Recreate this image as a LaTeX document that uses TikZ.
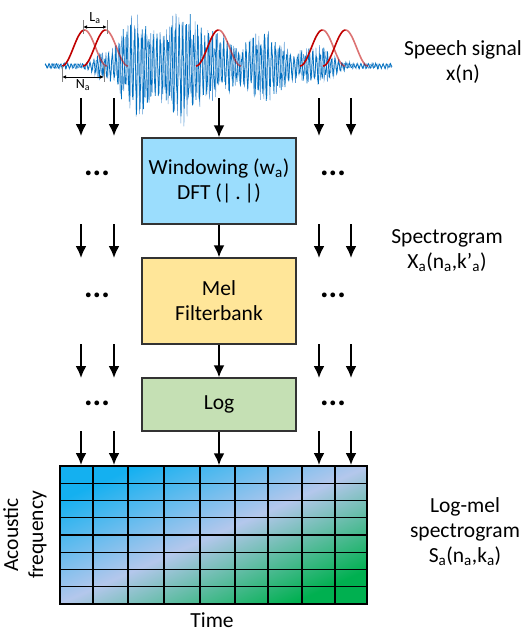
\documentclass[tikz,border=0pt]{standalone}
\usepackage{fontspec}
\setmainfont{Carlito}
\usetikzlibrary{arrows.meta}
\definecolor{winblue}{RGB}{155,221,253}
\definecolor{melyellow}{RGB}{255,230,153}
\definecolor{loggreen}{RGB}{197,224,180}
\definecolor{sigblue}{RGB}{0,112,192}
\definecolor{sigblue2}{RGB}{91,155,213}
\definecolor{winred}{RGB}{192,0,0}
\definecolor{cellblue}{RGB}{20,176,240}
\definecolor{celllav}{RGB}{180,199,236}
\definecolor{cellgreen}{RGB}{0,176,80}
\begin{document}
\begin{tikzpicture}[x=1pt,y=-1pt,>={Latex[length=12pt,width=11pt]},font=\fontsize{21.5}{25}\selectfont,
  declare function={env(\x)=3+6*exp(-((\x-100)/8)^2)+52*exp(-((\x-138)/25)^2)+58*exp(-((\x-182)/18)^2)+32*exp(-((\x-215)/20)^2)+34*exp(-((\x-265)/28)^2)+18*exp(-((\x-318)/18)^2);
    hann(\x,\s)=66-36*(0.5-0.5*cos(360*(\x-\s)/45));}]
\tikzset{
  stage/.style={draw=black!80,line width=1.3pt,minimum width=154pt,align=center,inner sep=2pt},
  flow/.style={->,line width=2pt},
  dots/.style={font=\fontsize{32}{32}\selectfont\bfseries},
  label/.style={align=center},
  win/.style={winred,line width=1.6pt},
  dim/.style={{Latex[length=4pt,width=3.5pt]}-{Latex[length=4pt,width=3.5pt]},line width=0.8pt},
  tick/.style={gray,line width=0.8pt}
}
\useasboundingbox (0,0) rectangle (526,632);
% speech signal
\pgfmathsetseed{5}
\draw[sigblue2,line width=0.5pt] plot[domain=45:392,samples=900] (\x,{66-1.0*env(\x)*sin(113*mod(\x,3.18584))*(0.3+0.7*rnd)});
\draw[sigblue,line width=0.7pt] plot[domain=45:392,samples=1100] (\x,{66-0.95*env(\x)*sin(97*mod(\x,3.71134))*(0.3+0.7*rnd)});
% analysis windows
\foreach \s in {62,83,196,300,323}{
  \draw[win] plot[domain=\s:\s+22.5,samples=30,smooth] (\x,{hann(\x,\s)});
  \draw[win,opacity=0.55] plot[domain=\s+22.5:\s+45,samples=30,smooth] (\x,{hann(\x,\s)});
}
% frame shift and length
\draw[tick] (83,20) -- (83,34);
\draw[tick] (107,20) -- (107,34);
\coordinate (la1) at (83,27);
\coordinate (la2) at (107,27);
\draw[dim] (la1) -- node[above=0pt,font=\fontsize{14}{14}\selectfont] (la) {L\textsubscript{a}} (la2);
\draw[tick] (62,66) -- (62,82);
\draw[tick] (104,66) -- (104,82);
\coordinate (na1) at (62,77);
\coordinate (na2) at (104,77);
\draw[dim] (na1) -- node[below=-1pt,font=\fontsize{14}{14}\selectfont] (na) {N\textsubscript{a}} (na2);
% processing stages
\node[stage,fill=winblue,minimum height=86pt] (window) at (219,181) {Windowing (w\textsubscript{a})\\DFT (|\,.\,|)};
\node[stage,fill=melyellow,minimum height=86pt] (mel) at (219,301) {Mel\\Filterbank};
\node[stage,fill=loggreen,minimum height=53pt] (log) at (219,404.5) {Log};
% log-mel grid
\shade[top color=cellblue,bottom color=cellgreen,middle color=celllav,shading angle=24] (60,466) rectangle (367,604);
\foreach \c in {93,128,164,200,235,268,302,335}
  \draw[line width=1.2pt] (\c,466) -- (\c,604);
\foreach \r in {1,...,7}
  \draw[line width=1.2pt] (60,466+\r*17.25) -- (367,466+\r*17.25);
\node[draw,line width=1.4pt,minimum width=307pt,minimum height=138pt,inner sep=0pt] (grid) at (213.5,535) {};
% arrows
\coordinate (sig) at (219,98);
\draw[flow] (sig) -- (window);
\draw[flow] (window) -- (mel);
\draw[flow] (mel) -- (log);
\draw[flow] (log) -- (log |- grid.north);
\foreach \c in {81,114,319,351}
  \foreach \r/\s/\e in {1/98/136,2/224/258,3/344/378,4/431/465}{
    \coordinate (t\c-\r) at (\c,\s);
    \coordinate (h\c-\r) at (\c,\e);
    \draw[flow] (t\c-\r) -- (h\c-\r);
  }
\foreach \y [count=\i] in {179,301,409}{
  \node[dots] (dl\i) at (97,\y-6) {...};
  \node[dots] (dr\i) at (333,\y-6) {...};
}
% labels
\node[label] (speech) at (463,62) {Speech signal\\x(n)};
\node[label] (spec) at (447,251) {Spectrogram\\X\textsubscript{a}(n\textsubscript{a},k’\textsubscript{a})};
\node[label] (logmel) at (465,532) {Log-mel\\spectrogram\\S\textsubscript{a}(n\textsubscript{a},k\textsubscript{a})};
\node[label,rotate=90] (freq) at (25,535) {Acoustic\\frequency};
\node[inner sep=0pt] (time) at (212,620) {Time};
\end{tikzpicture}
\end{document}
